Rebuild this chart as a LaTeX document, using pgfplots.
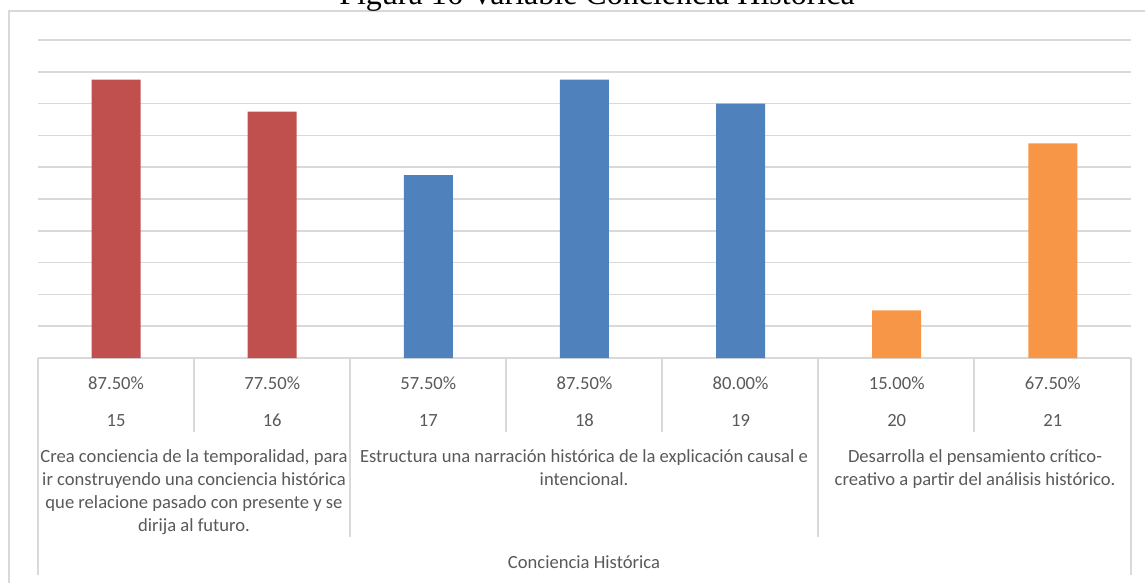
\documentclass[border=0pt]{standalone}
\usepackage{pgfplots}
\pgfplotsset{compat=1.18}
\usepackage{fontspec}
\setmainfont{Carlito}
\newfontfamily\titlefont{Liberation Serif}

\definecolor{gridgray}{HTML}{D9D9D9}
\definecolor{txtgray}{HTML}{595959}
\definecolor{barred}{HTML}{C0504D}
\definecolor{barblue}{HTML}{4F81BD}
\definecolor{barorange}{HTML}{F79646}

\begin{document}
\begin{tikzpicture}[x=1pt,y=1pt]
% image coords: X = x_px, Y = 582 - y_px
\begin{axis}[
  at={(38pt,224pt)}, anchor=south west,
  scale only axis, width=1093pt, height=318pt,
  xmin=-0.5, xmax=6.5, ymin=0, ymax=100,
  ytick={0,10,...,100}, yticklabels={},
  ymajorgrids, grid style={gridgray, line width=1.5pt},
  axis line style={draw=none}, major tick length=0pt,
  xtick={0,...,6},
  xticklabels={{87.50\%\\[14.4pt]15},{77.50\%\\[14.4pt]16},{57.50\%\\[14.4pt]17},
               {87.50\%\\[14.4pt]18},{80.00\%\\[14.4pt]19},{15.00\%\\[14.4pt]20},
               {67.50\%\\[14.4pt]21}},
  xticklabel style={align=center, text=txtgray, inner sep=0pt, anchor=north,
                    yshift=-19pt, font=\fontsize{18.6}{22.6}\selectfont},
]
\addplot[ybar, bar width=49pt, bar shift=0pt, fill=barred, draw=none]
  coordinates {(0,87.5) (1,77.5)};
\addplot[ybar, bar width=49pt, bar shift=0pt, fill=barblue, draw=none]
  coordinates {(2,57.5) (3,87.5) (4,80.0)};
\addplot[ybar, bar width=49pt, bar shift=0pt, fill=barorange, draw=none]
  coordinates {(5,15.0) (6,67.5)};
\end{axis}

% chart frame
\draw[gridgray, line width=1.5pt] (9,-20) -- (9,571) -- (1200,571);

% category table lines
\begin{scope}[gridgray, line width=1.5pt]
  \draw (38,224) -- (38,7);
  \draw (1131,224) -- (1131,7);
  \foreach \xx in {194,506,662,974} \draw (\xx,224) -- (\xx,150);
  \foreach \xx in {350,818} \draw (\xx,224) -- (\xx,45);
\end{scope}

\begin{scope}[every node/.style={text=txtgray, align=center, inner sep=0pt,
    font=\fontsize{18.6}{23}\selectfont}]
  \node[anchor=north] at (194,133) {Crea conciencia de la temporalidad, para\\
    ir construyendo una conciencia histórica\\que relacione pasado con presente y se\\dirija al futuro.};
  \node[anchor=north] at (584,133) {Estructura una narración histórica de la explicación causal e\\intencional.};
  \node[anchor=north] at (975,133) {Desarrolla el pensamiento crítico-\\creativo a partir del análisis histórico.};
  \node[anchor=base] at (584,14) {Conciencia Histórica};
\end{scope}

\node[anchor=base, inner sep=0pt, font=\titlefont\fontsize{32}{38}\selectfont] at (597,577)
  {Figura 16 Variable Conciencia Histórica};

\pgfresetboundingbox
\useasboundingbox (0,0) rectangle (1145,582);
\end{tikzpicture}
\end{document}
